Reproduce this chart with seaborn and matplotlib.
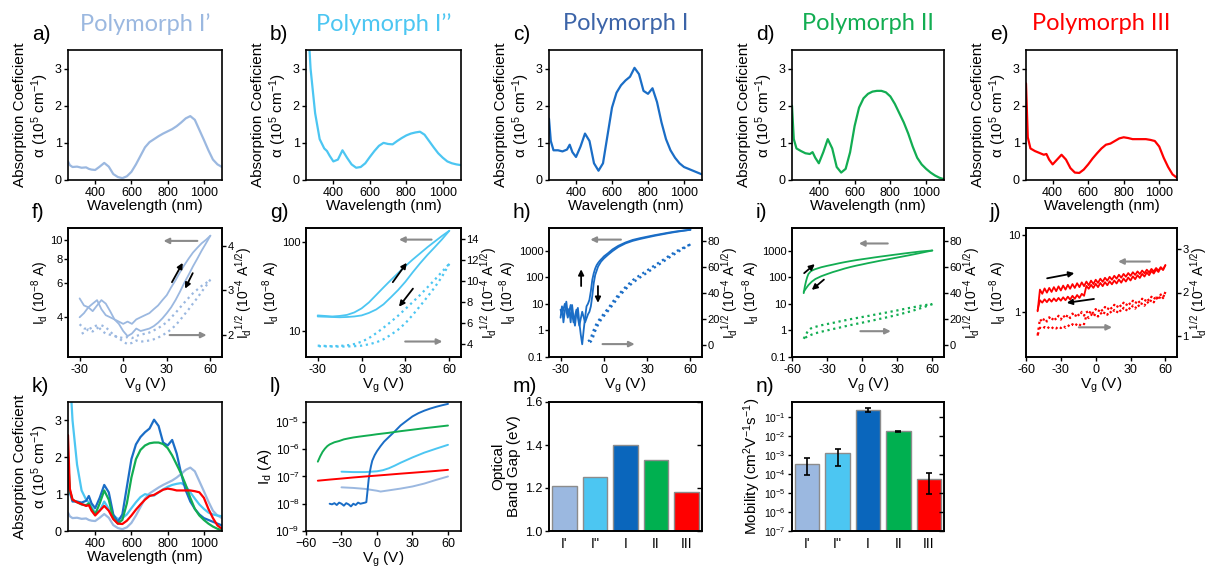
import numpy as np
import matplotlib
matplotlib.use("Agg")
import matplotlib.pyplot as plt
from matplotlib.ticker import FixedLocator, FixedFormatter, NullLocator, LogFormatterSciNotation
import seaborn as sns

sns.set_style("ticks")
plt.rcParams.update({
    "font.family": ["Liberation Sans", "DejaVu Sans"],
    "mathtext.fontset": "custom",
    "mathtext.rm": "Liberation Sans",
    "mathtext.it": "Liberation Sans:italic",
    "mathtext.bf": "Liberation Sans:bold",
    "mathtext.default": "regular",
    "axes.edgecolor": "black",
    "axes.linewidth": 1.2,
    "axes.labelcolor": "black",
    "text.color": "black",
    "xtick.color": "black",
    "ytick.color": "black",
    "xtick.labelsize": 9,
    "ytick.labelsize": 9,
    "axes.labelsize": 11,
    "xtick.major.size": 3.0,
    "ytick.major.size": 3.0,
    "xtick.major.width": 1.0,
    "ytick.major.width": 1.0,
    "xtick.major.pad": 2,
    "ytick.major.pad": 1.5,
})

# ---------------------------------------------------------------- data
polymorphs = ["I'", "I''", "I", "II", "III"]
titles = ["Polymorph I\u2019", "Polymorph I\u2019\u2019", "Polymorph I", "Polymorph II", "Polymorph III"]

# absorption spectra, alpha in 1e5 cm^-1
wavelength = [250, 260, 275, 300, 325, 350, 365, 380, 400, 425, 450, 475, 500, 525, 550, 575,
              600, 625, 650, 675, 700, 725, 750, 775, 800, 825, 850, 875, 900, 925, 950, 975,
              1000, 1025, 1050, 1075, 1100]
abs_Ip = [0.50, 0.40, 0.35, 0.36, 0.33, 0.34, 0.30, 0.28, 0.27, 0.36, 0.46, 0.36, 0.16, 0.08, 0.05, 0.10,
          0.22, 0.42, 0.65, 0.88, 1.02, 1.10, 1.18, 1.25, 1.31, 1.37, 1.45, 1.55, 1.66, 1.72, 1.62, 1.35,
          1.08, 0.80, 0.55, 0.42, 0.35]
abs_Ipp = [5.50, 4.30, 3.00, 1.80, 1.10, 0.85, 0.78, 0.65, 0.50, 0.55, 0.80, 0.60, 0.42, 0.33, 0.35, 0.45,
           0.62, 0.78, 0.92, 1.00, 0.97, 0.96, 1.05, 1.13, 1.20, 1.25, 1.28, 1.30, 1.22, 1.05, 0.88, 0.72,
           0.60, 0.50, 0.45, 0.42, 0.40]
abs_I = [1.65, 1.05, 0.80, 0.80, 0.77, 0.82, 0.95, 0.75, 0.62, 0.90, 1.25, 1.05, 0.45, 0.25, 0.45, 1.20,
         1.95, 2.35, 2.55, 2.68, 2.78, 3.02, 2.85, 2.40, 2.32, 2.47, 2.10, 1.55, 1.10, 0.80, 0.60, 0.45,
         0.35, 0.30, 0.25, 0.20, 0.15]
abs_II = [2.00, 1.10, 0.85, 0.78, 0.72, 0.70, 0.75, 0.60, 0.45, 0.75, 1.10, 0.85, 0.35, 0.20, 0.30, 0.75,
          1.45, 1.95, 2.20, 2.32, 2.38, 2.40, 2.40, 2.36, 2.25, 2.05, 1.80, 1.55, 1.25, 0.90, 0.60, 0.42,
          0.30, 0.20, 0.12, 0.06, 0.02]
abs_III = [2.60, 1.15, 0.85, 0.78, 0.73, 0.68, 0.70, 0.55, 0.42, 0.55, 0.68, 0.55, 0.32, 0.20, 0.19, 0.28,
           0.42, 0.58, 0.72, 0.85, 0.95, 0.98, 1.05, 1.12, 1.15, 1.13, 1.10, 1.10, 1.10, 1.10, 1.08, 1.05,
           0.90, 0.60, 0.35, 0.15, 0.06]
spectra = [abs_Ip, abs_Ipp, abs_I, abs_II, abs_III]

# transfer curves, I_d in 1e-8 A (forward and reverse gate sweeps)
f_fwd_vg = [-30, -27, -24, -21, -18, -15, -12, -9, -6, -3, 0, 3, 6, 9, 12, 15, 18, 21, 24, 27, 30,
            33, 36, 39, 42, 45, 48, 51, 54, 57, 60]
f_fwd_id = [5.0, 4.6, 4.5, 4.7, 4.9, 4.4, 4.1, 4.0, 3.9, 3.8, 3.7, 3.8, 3.7, 3.9, 4.0, 4.1, 4.2, 4.4,
            4.6, 4.9, 5.2, 5.7, 6.2, 6.8, 7.4, 8.0, 8.6, 9.1, 9.6, 10.0, 10.5]
f_bwd_vg = f_fwd_vg[::-1]
f_bwd_id = [10.5, 9.6, 8.8, 8.0, 7.3, 6.6, 6.0, 5.4, 4.9, 4.5, 4.2, 3.95, 3.75, 3.6, 3.5, 3.45, 3.4,
            3.5, 3.3, 3.2, 3.4, 3.7, 3.9, 4.3, 4.7, 4.9, 4.6, 4.3, 4.5, 4.2, 4.0]

g_fwd_vg = [-30, -25, -20, -15, -10, -5, 0, 5, 10, 15, 20, 25, 30, 35, 40, 45, 50, 55, 60]
g_fwd_id = [15.0, 14.8, 14.6, 14.8, 15.2, 16.2, 18.0, 21.0, 25.5, 31.0, 37.5, 45.0, 54.0, 64.0, 75.0,
            88.0, 102.0, 118.0, 135.0]
g_bwd_vg = g_fwd_vg[::-1]
g_bwd_id = [135.0, 108.0, 88.0, 72.0, 58.0, 46.0, 36.0, 29.0, 24.0, 20.0, 17.5, 16.0, 15.0, 14.6, 14.4,
            14.3, 14.4, 14.5, 14.6]

h_fwd_vg = [-30, -29, -28, -27, -26, -25, -24, -23, -22, -21, -20, -19, -18, -17, -16, -15, -14, -13,
            -12, -11, -10, -9, -8, -7, -6, -5, -4, -3, -2, -1, 0, 3, 6, 10, 15, 20, 25, 30, 35, 40,
            45, 50, 55, 60]
h_fwd_id = [3.0, 8.0, 2.0, 5.5, 12.0, 4.0, 6.5, 2.0, 9.0, 3.0, 1.5, 4.5, 7.0, 2.0, 0.7, 0.3, 1.0, 3.0,
            8.0, 10.0, 14.0, 30.0, 80.0, 140.0, 210.0, 280.0, 340.0, 400.0, 460.0, 520.0, 600.0, 800.0,
            1100.0, 1500.0, 2000.0, 2500.0, 2900.0, 3300.0, 3750.0, 4200.0, 4700.0, 5200.0, 5600.0,
            6000.0]
h_bwd_vg = [60, 55, 50, 45, 40, 35, 30, 25, 20, 15, 10, 6, 3, 0, -2, -4, -6, -7, -8, -9, -10, -11,
            -13, -15, -17, -19, -21, -23, -25, -27, -29, -30]
h_bwd_id = [6000.0, 5500.0, 5000.0, 4500.0, 4000.0, 3550.0, 3100.0, 2700.0, 2300.0, 1850.0, 1350.0,
            950.0, 700.0, 500.0, 380.0, 250.0, 120.0, 60.0, 20.0, 8.0, 5.0, 4.0, 2.0, 5.0, 1.5, 6.0,
            2.0, 9.0, 3.0, 10.0, 4.0, 6.0]

i_fwd_vg = [-50, -49, -48, -47, -46, -44, -42, -40, -35, -30, -25, -20, -15, -10, -5, 0, 5, 10, 15,
            20, 25, 30, 35, 40, 45, 50, 55, 60]
i_fwd_id = [25, 45, 70, 100, 130, 165, 185, 200, 235, 265, 295, 330, 365, 400, 435, 470, 505, 545,
            585, 625, 670, 715, 765, 815, 865, 920, 960, 1000]
i_bwd_vg = [60, 55, 50, 45, 40, 35, 30, 25, 20, 15, 10, 5, 0, -5, -10, -15, -20, -25, -30, -35, -40,
            -43, -46, -48, -50]
i_bwd_id = [1000, 900, 810, 730, 660, 600, 545, 495, 450, 410, 370, 335, 300, 270, 240, 210, 180,
            155, 130, 108, 85, 68, 50, 38, 28]

j_fwd_vg = list(range(-50, 61, 2))
j_fwd_id = [1.02, 1.95, 1.72, 2.02, 1.78, 2.05, 1.82, 2.10, 1.86, 2.15, 1.90, 2.20, 1.95, 2.25, 2.00,
            2.30, 2.05, 2.36, 2.10, 2.42, 2.16, 2.48, 2.22, 2.55, 2.30, 2.62, 2.38, 2.70, 2.46, 2.78,
            2.54, 2.86, 2.62, 2.95, 2.70, 3.04, 2.78, 3.12, 2.86, 3.20, 2.94, 3.28, 3.02, 3.36, 3.10,
            3.45, 3.18, 3.54, 3.26, 3.62, 3.35, 3.72, 3.44, 3.82, 3.55, 4.05]
j_bwd_vg = list(range(60, -51, -2))
j_bwd_id = [4.05, 3.50, 3.75, 3.30, 3.55, 3.15, 3.40, 3.00, 3.25, 2.88, 3.12, 2.76, 3.00, 2.66, 2.90,
            2.56, 2.80, 2.48, 2.72, 2.40, 2.64, 2.34, 2.56, 2.28, 2.50, 2.22, 2.44, 2.16, 2.38, 2.10,
            2.32, 2.05, 2.25, 2.00, 2.18, 1.62, 1.72, 1.52, 1.66, 1.48, 1.62, 1.45, 1.58, 1.42, 1.55,
            1.40, 1.52, 1.38, 1.50, 1.36, 1.48, 1.34, 1.46, 1.32, 1.42, 1.05]

# comparison of transfer curves, I_d in A
l_vg_Ip = [-30, -20, -10, 0, 3, 10, 20, 30, 40, 50, 60]
l_id_Ip = [4.0e-8, 3.8e-8, 3.5e-8, 3.0e-8, 2.8e-8, 3.1e-8, 3.6e-8, 4.3e-8, 5.5e-8, 7.5e-8, 1.0e-7]
l_vg_Ipp = [-30, -20, -10, 0, 5, 10, 15, 20, 30, 40, 50, 60]
l_id_Ipp = [1.5e-7, 1.45e-7, 1.45e-7, 1.55e-7, 1.7e-7, 2.0e-7, 2.5e-7, 3.2e-7, 5.0e-7, 7.5e-7, 1.05e-6,
            1.45e-6]
l_vg_I = [-40, -38, -36, -34, -32, -30, -28, -26, -24, -22, -20, -18, -16, -14, -12, -10, -9, -8, -7,
          -6, -5, -4, -2, 0, 3, 6, 10, 15, 20, 25, 30, 35, 40, 45, 50, 55, 60]
l_id_I = [1.0e-8, 0.95e-8, 1.05e-8, 0.9e-8, 1.1e-8, 1.0e-8, 0.85e-8, 1.05e-8, 0.95e-8, 0.8e-8, 1.0e-8,
          0.9e-8, 1.1e-8, 1.0e-8, 1.05e-8, 1.1e-8, 1.15e-8, 3e-8, 8e-8, 1.5e-7, 2.5e-7, 3.8e-7, 6e-7,
          8.5e-7, 1.3e-6, 1.9e-6, 2.8e-6, 4.5e-6, 7.5e-6, 1.1e-5, 1.6e-5, 2.1e-5, 2.6e-5, 3.1e-5,
          3.6e-5, 4.1e-5, 4.6e-5]
l_vg_II = [-50, -48, -46, -44, -42, -40, -36, -32, -28, -24, -20, -15, -10, -5, 0, 10, 20, 30, 40,
           50, 60]
l_id_II = [3.5e-7, 5.5e-7, 8e-7, 1.05e-6, 1.3e-6, 1.5e-6, 1.8e-6, 2.0e-6, 2.3e-6, 2.5e-6, 2.7e-6,
           2.9e-6, 3.1e-6, 3.3e-6, 3.55e-6, 4.0e-6, 4.6e-6, 5.2e-6, 5.9e-6, 6.6e-6, 7.4e-6]
l_vg_III = [-50, -40, -30, -20, -10, 0, 10, 20, 30, 40, 50, 60]
l_id_III = [7e-8, 7.7e-8, 8.4e-8, 9.2e-8, 1.0e-7, 1.08e-7, 1.17e-7, 1.27e-7, 1.37e-7, 1.48e-7, 1.6e-7,
            1.75e-7]

band_gap = [1.21, 1.25, 1.40, 1.33, 1.18]
mobility = [3.5e-4, 1.2e-3, 0.23, 0.017, 5.5e-5]
mobility_low = [9e-5, 2.5e-4, 0.17, 0.016, 9e-6]
mobility_high = [6.8e-4, 2.1e-3, 0.29, 0.0178, 1.07e-4]

# ---------------------------------------------------------------- style
line_colors = ["#9BB8E0", "#4CC6F2", "#1A6DC6", "#12AD52", "#FF0000"]
title_colors = ["#9BB8E0", "#4CC6F2", "#3C64A8", "#12AD52", "#FF0000"]
bar_colors = ["#9BB8E0", "#4CC6F2", "#0A66BC", "#00B050", "#FF0000"]
ARROW_GREY = "#8A8A8A"

W, H = 1211, 567
COLS = [(68, 222), (306, 461), (549, 702), (792, 944), (1026, 1177)]
ROWS = [(50, 180), (228, 357), (402, 531)]
TICK_DIGIT_PX = 0.556 * 8 * 100 / 72      # width of one 8 pt digit

fig = plt.figure(figsize=(W / 100, H / 100), dpi=100)


def panel(col, row):
    x0, x1 = COLS[col]
    y0, y1 = ROWS[row]
    return fig.add_axes([x0 / W, 1 - y1 / H, (x1 - x0) / W, (y1 - y0) / H])


def letter(col, row, text):
    x0 = COLS[col][0]
    y = ROWS[row][0] - 16
    fig.text((x0 - 36) / W, 1 - y / H, text, fontsize=15, ha="left", va="center")


def draw(ax, x, y, color, lw=1.3, ls="-"):
    sns.lineplot(x=np.asarray(x, float), y=np.asarray(y, float), ax=ax, color=color,
                 linewidth=lw, linestyle=ls, sort=False, estimator=None, legend=False)


def arrow(ax, start, end, color, lw=1.4):
    ax.annotate("", xy=end, xytext=start, xycoords="axes fraction", textcoords="axes fraction",
                arrowprops=dict(arrowstyle="-|>", color=color, lw=lw, mutation_scale=8,
                                shrinkA=0, shrinkB=0))


def style_spectrum(ax):
    ax.set_xlim(250, 1100)
    ax.set_ylim(0, 3.5)
    ax.set_xticks([400, 600, 800, 1000])
    ax.set_yticks([0, 1, 2, 3])
    ax.set_xlabel("Wavelength (nm)", labelpad=0)
    ax.set_ylabel("Absorption Coeficient\n\u03b1 (10$^{5}$ cm$^{-1}$)", labelpad=3, linespacing=1.15)


# ---------------------------------------------------------------- row 1: spectra
for k in range(5):
    ax = panel(k, 0)
    draw(ax, wavelength, spectra[k], line_colors[k], lw=1.6)
    style_spectrum(ax)
    x0, x1 = COLS[k]
    fig.text((x0 + x1) / 2 / W, 1 - 24 / H, titles[k], fontfamily="Lato", fontsize=17,
             color=title_colors[k], ha="center", va="center")
    letter(k, 0, "abcde"[k] + ")")


# ---------------------------------------------------------------- row 2: transfer curves
def transfer(col, lab, fwd, bwd, color, xlim, xticks, ylim, yticks, ylabels, ylim2, yticks2,
             arrows_black, arrows_grey, sqrt_from=None):
    ax = panel(col, 1)
    width_px = COLS[col][1] - COLS[col][0]
    ax.set_yscale("log")
    for vg, idv in (fwd, bwd):
        draw(ax, vg, idv, color, lw=1.3)
    ax.set_xlim(*xlim)
    ax.set_ylim(*ylim)
    ax.set_xticks(xticks)
    ax.set_xticklabels([str(t) for t in xticks])
    ax.yaxis.set_major_locator(FixedLocator(yticks))
    ax.yaxis.set_major_formatter(FixedFormatter(ylabels))
    ax.yaxis.set_minor_locator(NullLocator())
    ax.tick_params(axis="y", labelsize=8, pad=1)
    ax.set_xlabel("V$_g$ (V)", labelpad=0)
    ax.set_ylabel("I$_d$ (10$^{-8}$ A)", fontsize=10)
    left_off = 5 + TICK_DIGIT_PX * max(len(s) for s in ylabels)
    ax.yaxis.set_label_coords(-left_off / width_px, 0.5)

    ax2 = ax.twinx()
    # sqrt(I_d) in 1e-4 A^1/2 is the square root of I_d expressed in 1e-8 A
    for vg, idv in (fwd, bwd):
        vg = np.asarray(vg, float)
        idv = np.asarray(idv, float)
        keep = vg >= sqrt_from if sqrt_from is not None else np.ones_like(vg, bool)
        draw(ax2, vg[keep], np.sqrt(idv[keep]), color, lw=1.6, ls=":")
    ax2.set_ylim(*ylim2)
    ax2.set_yticks(yticks2)
    ax2.set_xlim(*xlim)
    ax2.tick_params(axis="y", labelsize=8, pad=1)
    ax2.set_ylabel("I$_d$$^{1/2}$ (10$^{-4}$ A$^{1/2}$)", fontsize=10)
    right_off = 5 + TICK_DIGIT_PX * max(len(str(t)) for t in yticks2)
    ax2.yaxis.set_label_coords(1 + right_off / width_px, 0.5)
    for s, e in arrows_grey:
        arrow(ax2, s, e, ARROW_GREY, lw=1.5)
    for s, e in arrows_black:
        arrow(ax2, s, e, "black", lw=1.3)
    letter(col, 1, lab)
    return ax, ax2


transfer(0, "f)", (f_fwd_vg, f_fwd_id), (f_bwd_vg, f_bwd_id), line_colors[0],
         (-38, 68), [-30, 0, 30, 60], (2.5, 11.5), [4, 6, 8, 10], ["4", "6", "8", "10"],
         (1.5, 4.4), [2, 3, 4],
         [((0.675, 0.58), (0.745, 0.73)), ((0.81, 0.65), (0.76, 0.53))],
         [((0.84, 0.90), (0.62, 0.90)), ((0.66, 0.17), (0.90, 0.17))])

transfer(1, "g)", (g_fwd_vg, g_fwd_id), (g_bwd_vg, g_bwd_id), line_colors[1],
         (-38, 68), [-30, 0, 30, 60], (5.1, 145), [10, 100], ["10", "100"],
         (2.8, 15), [4, 6, 8, 10, 12, 14],
         [((0.56, 0.58), (0.65, 0.73)), ((0.69, 0.53), (0.60, 0.39))],
         [((0.81, 0.91), (0.60, 0.91)), ((0.64, 0.12), (0.88, 0.12))])

transfer(2, "h)", (h_fwd_vg, h_fwd_id), (h_bwd_vg, h_bwd_id), line_colors[2],
         (-38, 68), [-30, 0, 30, 60], (0.1, 7000), [0.1, 1, 10, 100, 1000],
         ["0.1", "1", "10", "100", "1000"],
         (-9, 90), [0, 20, 40, 60, 80],
         [((0.21, 0.55), (0.21, 0.68)), ((0.32, 0.55), (0.32, 0.42))],
         [((0.47, 0.91), (0.27, 0.91)), ((0.35, 0.10), (0.56, 0.10))],
         sqrt_from=-11)

transfer(3, "i)", (i_fwd_vg, i_fwd_id), (i_bwd_vg, i_bwd_id), line_colors[3],
         (-60, 70), [-60, -30, 0, 30, 60], (0.1, 7000), [0.1, 1, 10, 100, 1000],
         ["0.1", "1", "10", "100", "1000"],
         (-9, 90), [0, 20, 40, 60, 80],
         [((0.08, 0.65), (0.15, 0.72)), ((0.21, 0.60), (0.13, 0.52))],
         [((0.63, 0.88), (0.44, 0.88)), ((0.45, 0.20), (0.65, 0.20))])

transfer(4, "j)", (j_fwd_vg, j_fwd_id), (j_bwd_vg, j_bwd_id), line_colors[4],
         (-60, 70), [-60, -30, 0, 30, 60], (0.26, 12.3), [1, 10], ["1", "10"],
         (0.52, 3.48), [1, 2, 3],
         [((0.14, 0.61), (0.32, 0.65)), ((0.45, 0.45), (0.27, 0.42))],
         [((0.82, 0.74), (0.61, 0.74)), ((0.35, 0.23), (0.57, 0.23))])

# ---------------------------------------------------------------- row 3
# k) all spectra together
ax = panel(0, 2)
for k in range(5):
    draw(ax, wavelength, spectra[k], line_colors[k], lw=1.6)
style_spectrum(ax)
letter(0, 2, "k)")

# l) transfer curves in absolute current
ax = panel(1, 2)
ax.set_yscale("log")
for vg, idv, c in [(l_vg_Ip, l_id_Ip, line_colors[0]), (l_vg_Ipp, l_id_Ipp, line_colors[1]),
                   (l_vg_I, l_id_I, line_colors[2]), (l_vg_II, l_id_II, line_colors[3]),
                   (l_vg_III, l_id_III, line_colors[4])]:
    draw(ax, vg, idv, c, lw=1.4)
ax.set_xlim(-60, 71)
ax.set_ylim(1e-9, 5.4e-5)
ax.set_xticks([-60, -30, 0, 30, 60])
ax.yaxis.set_major_locator(FixedLocator([1e-9, 1e-8, 1e-7, 1e-6, 1e-5]))
ax.yaxis.set_major_formatter(LogFormatterSciNotation())
ax.yaxis.set_minor_locator(NullLocator())
ax.tick_params(axis="y", labelsize=8.5)
ax.set_xlabel("V$_g$ (V)", labelpad=0)
ax.set_ylabel("I$_d$ (A)", labelpad=1)
letter(1, 2, "l)")


def mirror_ticks(ax, log=False):
    tw = ax.twinx()
    if log:
        tw.set_yscale("log")
    tw.set_ylim(ax.get_ylim())
    tw.yaxis.set_major_locator(FixedLocator(ax.get_yticks()))
    tw.yaxis.set_minor_locator(NullLocator())
    tw.tick_params(axis="y", direction="in", labelright=False, length=3.5)


# m) optical band gap
ax = panel(2, 2)
sns.barplot(x=polymorphs, y=band_gap, hue=polymorphs, palette=bar_colors, legend=False, ax=ax,
            width=0.8, saturation=1, edgecolor="#8C8C8C", linewidth=1.0)
ax.set_xlim(-0.5, 4.5)
ax.set_ylim(1.0, 1.6)
ax.set_yticks([1.0, 1.2, 1.4, 1.6])
ax.set_yticklabels(["1.0", "1.2", "1.4", "1.6"])
ax.tick_params(axis="x", length=0, labelsize=10, pad=4)
ax.set_xlabel("")
ax.set_ylabel("Optical\nBand Gap (eV)", labelpad=3, linespacing=1.15)
mirror_ticks(ax)
letter(2, 2, "m)")

# n) field-effect mobility
ax = panel(3, 2)
sns.barplot(x=polymorphs, y=mobility, hue=polymorphs, palette=bar_colors, legend=False, ax=ax,
            width=0.8, saturation=1, edgecolor="#8C8C8C", linewidth=1.0)
ax.set_yscale("log")
mob = np.asarray(mobility)
ax.errorbar(np.arange(len(polymorphs)), mob,
            yerr=[mob - np.asarray(mobility_low), np.asarray(mobility_high) - mob],
            fmt="none", ecolor="black", elinewidth=1.2, capsize=2, capthick=1.2)
ax.set_xlim(-0.5, 4.5)
ax.set_ylim(1e-7, 0.6)
ax.yaxis.set_major_locator(FixedLocator([1e-7, 1e-6, 1e-5, 1e-4, 1e-3, 1e-2, 1e-1]))
ax.yaxis.set_major_formatter(LogFormatterSciNotation())
ax.yaxis.set_minor_locator(NullLocator())
ax.tick_params(axis="y", labelsize=7.5)
ax.tick_params(axis="x", length=0, labelsize=10, pad=4)
ax.set_xlabel("")
ax.set_ylabel("Mobility (cm$^{2}$V$^{-1}$s$^{-1}$)", labelpad=1)
mirror_ticks(ax, log=True)
letter(3, 2, "n)")

fig.savefig("out.png", dpi=100)
